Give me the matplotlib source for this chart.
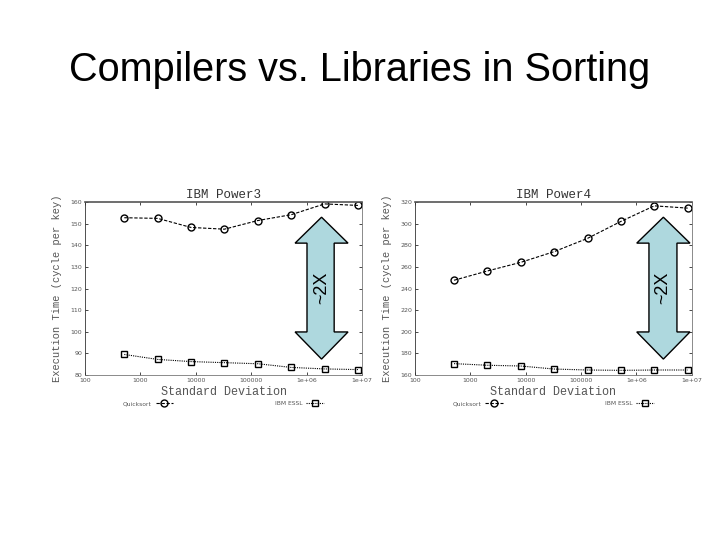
import matplotlib
matplotlib.use('Agg')
import matplotlib.pyplot as plt
from matplotlib.patches import Polygon
from matplotlib.lines import Line2D
import numpy as np

# standard deviation of keys (x axis, log scale)
std_dev = [512, 2048, 8192, 32768, 131072, 524288, 2097152, 8388608]

# IBM Power3, cycles per key
p3_quicksort = [152.8, 152.5, 148.3, 147.5, 151.5, 154.2, 159.2, 158.5]
p3_essl = [89.5, 87.2, 86.2, 85.7, 85.2, 83.5, 82.8, 82.5]

# IBM Power4, cycles per key
p4_quicksort = [247.7, 256.3, 264.3, 274.2, 286.5, 302.2, 316.6, 314.5]
p4_essl = [170.5, 169.0, 168.3, 165.5, 164.6, 164.3, 164.6, 164.6]

x_ticks = [100, 1000, 10000, 100000, 1e6, 1e7]
x_labels = ['100', '1000', '10000', '100000', '1e+06', '1e+07']
p3_yticks = [80, 90, 100, 110, 120, 130, 140, 150, 160]
p4_yticks = [160, 180, 200, 220, 240, 260, 280, 300, 320]

MONO = 'Liberation Mono'
GREY = '#555555'


def draw_panel(ax, title, quick, essl, yticks):
    ax.plot(std_dev, quick, color='black', linestyle=(0, (3, 1.5)), linewidth=0.8,
            marker='o', markersize=5, markerfacecolor='none', markeredgecolor='black',
            markeredgewidth=1.0)
    ax.plot(std_dev, essl, color='black', linestyle=(0, (1, 1)), linewidth=0.8,
            marker='s', markersize=5, markerfacecolor='none', markeredgecolor='black',
            markeredgewidth=1.0)
    ax.set_xscale('log')
    ax.set_xlim(100, 1e7)
    ax.set_ylim(yticks[0], yticks[-1])
    ax.set_xticks(x_ticks)
    ax.set_xticklabels(x_labels)
    ax.set_yticks(yticks)
    ax.minorticks_off()
    ax.tick_params(direction='in', top=True, right=True, length=2.5, width=0.5,
                   labelsize=4.5, labelcolor=GREY, pad=2)
    for name, sp in ax.spines.items():
        sp.set_linewidth(0.6)
        sp.set_color('#777777')
    ax.spines['top'].set_color('#555555')
    ax.spines['top'].set_linewidth(1.2)
    ax.spines['left'].set_color('#333333')
    ax.set_title(title, fontsize=9, family=MONO, color='#333333', pad=3)
    ax.set_xlabel('Standard Deviation', fontsize=8.5, family=MONO, color=GREY, labelpad=2)
    ax.set_ylabel('Execution Time (cycle per key)', fontsize=7.5, family=MONO,
                  color=GREY, labelpad=6)

    handles = [
        Line2D([], [], color='black', linestyle=(0, (3, 1.5)), linewidth=0.8, marker='o',
               markersize=5, markerfacecolor='none', markeredgecolor='black'),
        Line2D([], [], color='black', linestyle=(0, (1, 1)), linewidth=0.8, marker='s',
               markersize=5, markerfacecolor='none', markeredgecolor='black'),
    ]
    leg = ax.legend(handles, ['Quicksort', 'IBM ESSL'], ncol=2, markerfirst=False,
                    loc='upper center', bbox_to_anchor=(0.5, -0.12), frameon=False,
                    fontsize=4.3, columnspacing=17, handlelength=3, handletextpad=0.6)
    for t in leg.get_texts():
        t.set_color(GREY)


def draw_arrow(ax, xh0, xh1, xs0, xs1, text_x):
    # double headed block arrow in axes fraction coordinates
    top, hb_top, hb_bot, bot = 0.913, 0.763, 0.249, 0.092
    mid = (xh0 + xh1) / 2
    pts = [(mid, top), (xh1, hb_top), (xs1, hb_top), (xs1, hb_bot), (xh1, hb_bot),
           (mid, bot), (xh0, hb_bot), (xs0, hb_bot), (xs0, hb_top), (xh0, hb_top)]
    poly = Polygon(pts, closed=True, transform=ax.transAxes, facecolor='#aed8de',
                   edgecolor='black', linewidth=1.0, clip_on=False, zorder=5)
    ax.add_patch(poly)
    ax.text(text_x, 0.503, '~2X', transform=ax.transAxes, rotation=90, ha='center',
            va='center', fontsize=13, family='Liberation Sans', zorder=6)


fig = plt.figure(figsize=(7.2, 5.4), dpi=100)
fig.text(0.5, 0.87, 'Compilers vs. Libraries in Sorting', ha='center', va='center',
         fontsize=28.5, family='Liberation Sans')

ax1 = fig.add_axes([0.118, 0.3056, 0.385, 0.320])
ax2 = fig.add_axes([0.576, 0.3056, 0.385, 0.320])

draw_panel(ax1, 'IBM Power3', p3_quicksort, p3_essl, p3_yticks)
draw_panel(ax2, 'IBM Power4', p4_quicksort, p4_essl, p4_yticks)

draw_arrow(ax1, 0.758, 0.949, 0.801, 0.899, 0.855)
draw_arrow(ax2, 0.801, 0.993, 0.845, 0.946, 0.893)

fig.savefig('out.png', dpi=100)
